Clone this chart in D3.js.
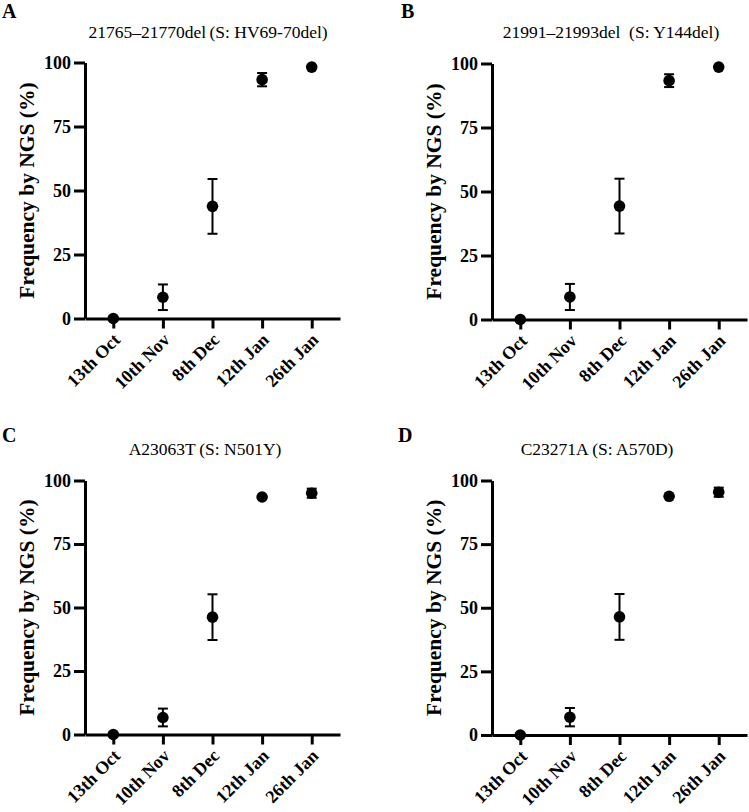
<!DOCTYPE html>
<html>
<head>
<meta charset="utf-8">
<script src="https://cdn.jsdelivr.net/npm/d3@7"></script>
<style>
  html, body { margin: 0; padding: 0; background: #fff; }
  svg { display: block; }
</style>
</head>
<body>
<svg id="chart" width="749" height="812"></svg>
<script>
// ---- data ----
const categories = ["13th Oct", "10th Nov", "8th Dec", "12th Jan", "26th Jan"];
const yTicks = [0, 25, 50, 75, 100];
const panelLetters = ["A", "B", "C", "D"];
const panelTitles = [
  "21765\u201321770del\u2009(S: HV69-70del)",
  "21991\u201321993del  (S: Y144del)",
  "A23063T\u2009(S: N501Y)",
  "C23271A\u2009(S: A570D)"
];
const meanA = [0, 8.3, 43.8, 93.3, 98.2];
const errA  = [0, 5.0, 10.7, 2.6, 0];
const meanB = [0, 8.8, 44.3, 93.3, 98.6];
const errB  = [0, 5.1, 10.7, 2.5, 0];
const meanC = [0, 6.7, 46.2, 93.5, 95.0];
const errC  = [0, 3.5, 9.0, 0, 1.8];
const meanD = [0, 7.0, 46.4, 93.8, 95.4];
const errD  = [0, 3.6, 9.0, 0, 1.8];
const yLabel = "Frequency by NGS (%)";

// ---- layout ----
const panels = [
  { mean: meanA, err: errA, axisX: 85,  top: 62.5,  bottom: 318.5, titleX: 208, titleY: 38,  letterX: 2,   letterY: 18 },
  { mean: meanB, err: errB, axisX: 492, top: 63.5,  bottom: 319.5, titleX: 611, titleY: 38,  letterX: 401, letterY: 18 },
  { mean: meanC, err: errC, axisX: 85,  top: 480.5, bottom: 734.5, titleX: 205, titleY: 455, letterX: 2,   letterY: 442 },
  { mean: meanD, err: errD, axisX: 492, top: 480.5, bottom: 735,   titleX: 597, titleY: 455, letterX: 398, letterY: 442 }
];

const svg = d3.select("#chart");
const FONT = "Liberation Serif";

panels.forEach((p, i) => {
  const g = svg.append("g");
  const x = d3.scalePoint().domain(categories).range([p.axisX, p.axisX + 255]).padding(0.57);
  const y = d3.scaleLinear().domain([0, 100]).range([p.bottom, p.top]);

  // panel letter
  g.append("text")
    .attr("x", p.letterX).attr("y", p.letterY)
    .attr("font-family", FONT).attr("font-weight", "bold").attr("font-size", 20)
    .text(panelLetters[i]);

  // title
  g.append("text")
    .attr("x", p.titleX).attr("y", p.titleY)
    .attr("text-anchor", "middle")
    .attr("font-family", FONT).attr("font-size", 17.5)
    .style("white-space", "pre")
    .text(panelTitles[i]);

  // y axis
  const ya = g.append("g")
    .attr("transform", `translate(${p.axisX},0)`)
    .call(d3.axisLeft(y).tickValues(yTicks).tickSize(11).tickSizeOuter(0).tickPadding(3));
  ya.select(".domain").attr("stroke", "#000").attr("stroke-width", 3);
  ya.selectAll(".tick line").attr("stroke", "#000").attr("stroke-width", 3);
  ya.selectAll(".tick text")
    .attr("font-family", FONT).attr("font-weight", "bold").attr("font-size", 18).attr("fill", "#000");

  // x axis
  const xa = g.append("g")
    .attr("transform", `translate(0,${p.bottom})`)
    .call(d3.axisBottom(x).tickSize(10).tickSizeOuter(0));
  xa.select(".domain").attr("stroke", "#000").attr("stroke-width", 3);
  xa.selectAll(".tick line").attr("stroke", "#000").attr("stroke-width", 3);
  xa.selectAll(".tick text")
    .attr("font-family", FONT).attr("font-weight", "bold").attr("font-size", 18).attr("fill", "#000")
    .attr("text-anchor", "end")
    .attr("transform", "translate(3,18) rotate(-45)")
    .attr("dy", "0.35em").attr("y", 0).attr("x", 0);

  // y label
  g.append("text")
    .attr("transform", `translate(${p.axisX - 51},${(p.top + p.bottom) / 2}) rotate(-90)`)
    .attr("text-anchor", "middle")
    .attr("font-family", FONT).attr("font-weight", "bold").attr("font-size", 21.5)
    .text(yLabel);

  // data: error bars then points
  const data = categories.map((c, k) => ({ c, m: p.mean[k], e: p.err[k] }));
  const eb = g.append("g").attr("stroke", "#000").attr("stroke-width", 2);
  data.filter(d => d.e > 0).forEach(d => {
    const cx = x(d.c);
    eb.append("line").attr("x1", cx).attr("x2", cx).attr("y1", y(d.m - d.e)).attr("y2", y(d.m + d.e));
    eb.append("line").attr("x1", cx - 5).attr("x2", cx + 5).attr("y1", y(d.m - d.e)).attr("y2", y(d.m - d.e));
    eb.append("line").attr("x1", cx - 5).attr("x2", cx + 5).attr("y1", y(d.m + d.e)).attr("y2", y(d.m + d.e));
  });
  g.append("g").selectAll("circle").data(data).join("circle")
    .attr("cx", d => x(d.c)).attr("cy", d => y(d.m)).attr("r", 5.8).attr("fill", "#000");
});
</script>
</body>
</html>
